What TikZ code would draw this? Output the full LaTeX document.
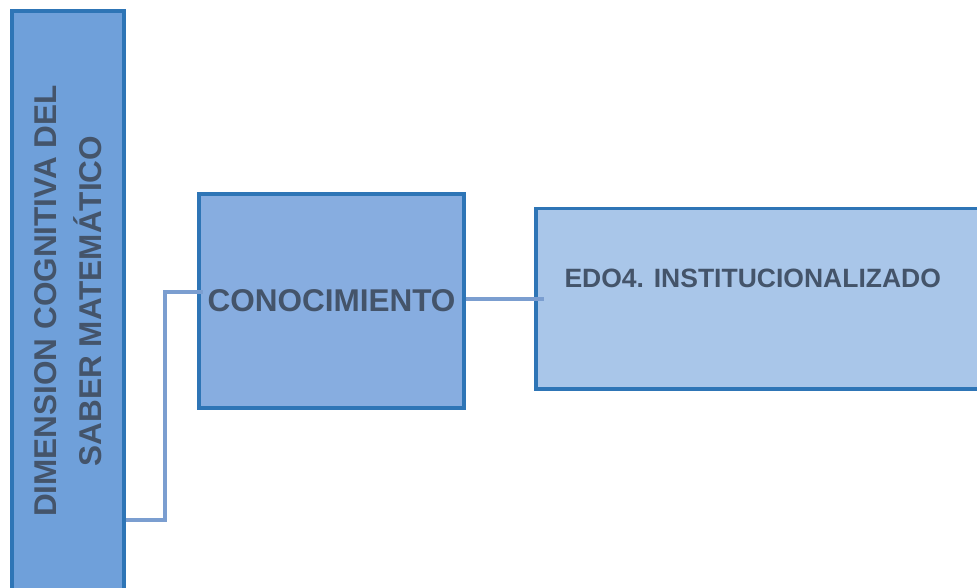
\documentclass[tikz,border=0pt]{standalone}
\usepackage{fontspec}
\setmainfont{Liberation Sans}
\usetikzlibrary{positioning, calc}
\definecolor{boxBorder}{HTML}{2E75B6}
\definecolor{dimFill}{HTML}{6FA0DA}
\definecolor{conFill}{HTML}{87ADE0}
\definecolor{edoFill}{HTML}{A9C6E9}
\definecolor{linkBlue}{HTML}{7B9ED0}
\definecolor{textGray}{HTML}{44546A}

\begin{document}
\begin{tikzpicture}[x=1pt, y=-1pt,
        box/.style={draw=boxBorder, line width=3.5pt, inner sep=0pt, text=textGray},
        link/.style={linkBlue, line width=3.5pt}]
            \useasboundingbox (0,0) rectangle (977,588);
            \node[box, fill=dimFill, rotate=90, minimum width=580pt, minimum height=112pt, align=center,
                font=\bfseries\fontsize{31.5}{45}\selectfont] (dim) at (68,301)
                {DIMENSION COGNITIVA DEL\\SABER MATEMÁTICO};
            \node[box, fill=conFill, minimum width=265pt, minimum height=214pt,
                font=\bfseries\fontsize{31.5}{37}\selectfont] (conoc) at (331.5,301) {CONOCIMIENTO};
            \node[box, fill=edoFill, minimum width=460pt, minimum height=180pt, anchor=north west,
                label={[anchor=base west, xshift=27pt, yshift=-80pt, text=textGray,
                font=\bfseries\fontsize{26.5}{32}\selectfont]north west:EDO4. INSTITUCIONALIZADO}] (edo) at (534,207) {};
            \coordinate (bend) at (165,292);
            \draw[link] ([yshift=-219pt]dim.south) -| (bend) -- ([xshift=6pt, yshift=9pt]conoc.west);
            \draw[link] (conoc.east |- edo.west) -- ([xshift=10pt]edo.west);
        \end{tikzpicture}
\end{document}
